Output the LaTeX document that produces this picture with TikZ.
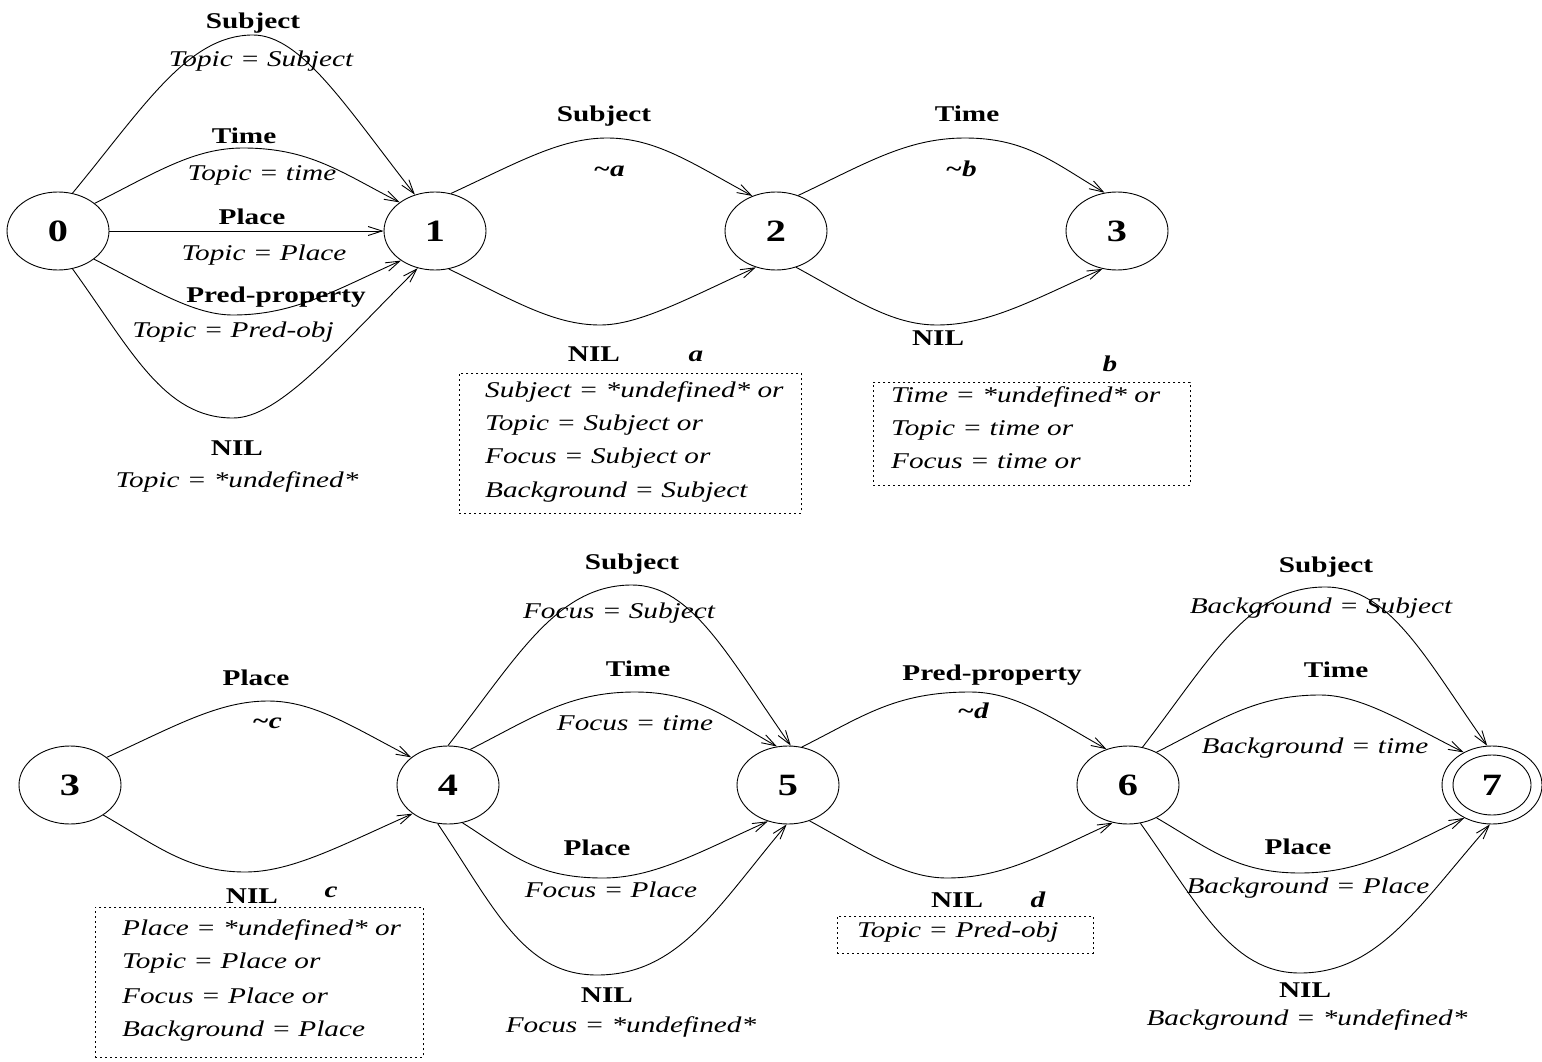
\documentclass[tikz,border=0pt]{standalone}
\usepackage{fontspec}
\setmainfont{Liberation Serif}[FakeStretch=1.3]
\usetikzlibrary{arrows.meta,shapes.geometric,calc}
\newcommand\bend[5]{\draw[arc] (#1) .. controls ($(#1)!0.55!(#2)$) and ($(#3)!1.3!(#2)$) .. (#3) .. controls ($(#3)!1.3!(#4)$) and ($(#5)!0.55!(#4)$) .. (#5);}
\begin{document}
\begin{tikzpicture}[x=1pt,y=1pt,
 st/.style={draw, ellipse, minimum width=102pt, minimum height=78pt, inner sep=0pt, line width=0.9pt, font=\fontsize{31}{31}\selectfont\bfseries},
 arc/.style={draw, line width=0.9pt, -{Straight Barb[length=14pt,width=9pt]}},
 lb/.style={anchor=base, inner sep=0pt, font=\fontsize{22.5}{27}\selectfont\bfseries},
 cd/.style={anchor=base, inner sep=0pt, font=\fontsize{22.5}{27}\selectfont\itshape},
 bi/.style={anchor=base, inner sep=0pt, font=\fontsize{22.5}{27}\selectfont\bfseries\itshape},
 bl/.style={anchor=base west, inner sep=0pt, font=\fontsize{22.5}{27}\selectfont\itshape},
 bx/.style={draw, dash pattern=on 2pt off 3pt, line width=0.8pt, inner sep=0pt, anchor=north west}]
\useasboundingbox (0,0) rectangle (1542,-1062);

% top row nodes
\node[st] (n0) at (58,-231) {0};
\node[st] (n1) at (435,-231) {1};
\node[st] (n2) at (776,-231) {2};
\node[st] (n3) at (1117,-231) {3};
% bottom row nodes
\node[st] (m3) at (70,-785) {3};
\node[st] (m4) at (448,-785) {4};
\node[st] (m5) at (788,-785) {5};
\node[st] (m6) at (1128,-785) {6};
\node[st, minimum width=100pt] (m7) at (1492,-785) {7};
\draw[line width=0.9pt] (m7.center) ellipse [x radius=39, y radius=30];

% 0 -> 1
\bend{n0.69}{203,-35}{253,-35}{290,-35}{n1.119}
\bend{n0.37}{205,-148}{243,-148}{294,-148}{n1.141}
\draw[arc] (n0) -- (n1);
\bend{n0.322}{203,-315}{233,-315}{280,-315}{n1.221}
\bend{n0.291}{180,-418}{233,-418}{268,-418}{n1.245}
% 1 -> 2
\bend{n1.67}{571,-138}{607,-138}{645,-138}{n2.124}
\bend{n1.290}{564,-325}{600,-325}{630,-325}{n2.241}
% 2 -> 3
\bend{n2.58}{920,-138}{965,-138}{1012,-138}{n3.108}
\bend{n2.299}{902,-325}{937,-325}{977,-325}{n3.249}
% 3 -> 4
\bend{m3.37}{230,-701}{268,-701}{303,-701}{m4.143}
\bend{m3.318}{202,-872}{245,-872}{281,-872}{m4.219}
% 4 -> 5
\bend{m4.90}{574,-585}{632,-585}{678,-585}{m5.86}
\bend{m4.58}{584,-692}{635,-692}{681,-692}{m5.106}
\bend{m4.291}{550,-878}{603,-878}{642,-878}{m5.241}
\bend{m4.255}{540,-975}{597,-975}{660,-975}{m5.268}
% 5 -> 6
\bend{m5.70}{912,-692}{970,-692}{1005,-692}{m6.121}
\bend{m5.301}{914,-878}{947,-878}{991,-878}{m6.248}
% 6 -> 7
\bend{m6.69}{1266,-587}{1325,-587}{1375,-587}{m7.97}
\bend{m6.49}{1270,-695}{1320,-695}{1351,-695}{m7.131}
\bend{m6.311}{1251,-873}{1300,-873}{1348,-873}{m7.230}
\bend{m6.288}{1247,-973}{1300,-973}{1360,-973}{m7.267}

% labels 0 -> 1
\node[lb] (l01a) at (253,-29) {Subject};
\node[cd] (c01a) at (261,-67) {Topic = Subject};
\node[lb] (l01b) at (244,-143) {Time};
\node[cd] (c01b) at (262,-180) {Topic = time};
\node[lb] (l01c) at (252,-224) {Place};
\node[cd] (c01c) at (264,-260) {Topic = Place};
\node[lb] (l01d) at (276,-302) {Pred-property};
\node[cd] (c01d) at (233,-337) {Topic = Pred-obj};
\node[lb] (l01e) at (237,-455) {NIL};
\node[cd] (c01e) at (237,-487) {Topic = *undefined*};

% labels 1 -> 2
\node[lb] (l12a) at (604,-122) {Subject};
\node[bi] (c12a) at (609,-176) {\textasciitilde a};
\node[lb] (l12b) at (594,-361) {NIL};
\node[bi] (c12b) at (696,-361) {a};
\node[bx, minimum width=342pt, minimum height=140pt] (boxa) at (459,-373) {};
\node[bl] (ba1) at (485,-397) {Subject = *undefined* or};
\node[bl] (ba2) at (485,-430) {Topic = Subject or};
\node[bl] (ba3) at (485,-463) {Focus = Subject or};
\node[bl] (ba4) at (485,-497) {Background = Subject};

% labels 2 -> 3
\node[lb] (l23a) at (967,-122) {Time};
\node[bi] (c23a) at (961,-176) {\textasciitilde b};
\node[lb] (l23b) at (938,-345) {NIL};
\node[bi] (c23b) at (1110,-371) {b};
\node[bx, minimum width=317pt, minimum height=103pt] (boxb) at (873,-382) {};
\node[bl] (bb1) at (891,-402) {Time = *undefined* or};
\node[bl] (bb2) at (891,-435) {Topic = time or};
\node[bl] (bb3) at (891,-468) {Focus = time or};

% labels 3 -> 4
\node[lb] (l34a) at (256,-685) {Place};
\node[bi] (c34a) at (267,-728) {\textasciitilde c};
\node[lb] (l34b) at (252,-903) {NIL};
\node[bi] (c34b) at (331,-897) {c};
\node[bx, minimum width=328pt, minimum height=150pt] (boxc) at (95,-907) {};
\node[bl] (bc1) at (122,-935) {Place = *undefined* or};
\node[bl] (bc2) at (122,-968) {Topic = Place or};
\node[bl] (bc3) at (122,-1003) {Focus = Place or};
\node[bl] (bc4) at (122,-1036) {Background = Place};

% labels 4 -> 5
\node[lb] (l45a) at (632,-569) {Subject};
\node[cd] (c45a) at (619,-618) {Focus = Subject};
\node[lb] (l45b) at (638,-676) {Time};
\node[cd] (c45b) at (635,-730) {Focus = time};
\node[lb] (l45c) at (597,-855) {Place};
\node[cd] (c45c) at (611,-897) {Focus = Place};
\node[lb] (l45d) at (607,-1002) {NIL};
\node[cd] (c45d) at (631,-1032) {Focus = *undefined*};

% labels 5 -> 6
\node[lb] (l56a) at (992,-680) {Pred-property};
\node[bi] (c56a) at (973,-718) {\textasciitilde d};
\node[lb] (l56b) at (957,-907) {NIL};
\node[bi] (c56b) at (1038,-907) {d};
\node[bx, minimum width=256pt, minimum height=37pt] (boxd) at (837,-916) {};
\node[bl] (bd1) at (857,-937) {Topic = Pred-obj};

% labels 6 -> 7
\node[lb] (l67a) at (1326,-572) {Subject};
\node[cd] (c67a) at (1321,-613) {Background = Subject};
\node[lb] (l67b) at (1336,-677) {Time};
\node[cd] (c67b) at (1315,-753) {Background = time};
\node[lb] (l67c) at (1298,-854) {Place};
\node[cd] (c67c) at (1308,-893) {Background = Place};
\node[lb] (l67d) at (1305,-997) {NIL};
\node[cd] (c67d) at (1307,-1025) {Background = *undefined*};
\end{tikzpicture}
\end{document}
